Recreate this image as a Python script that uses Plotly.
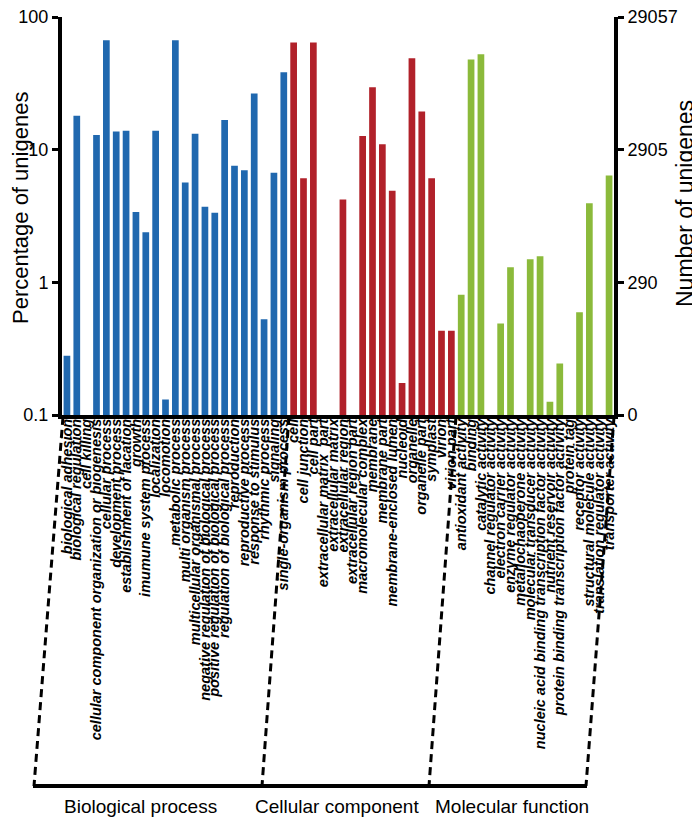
import plotly.graph_objects as go

# ---------------- data ----------------
bp_labels = [
    "biological adhesion", "biological regulation", "cell killing",
    "cellular component organization or biogenesis", "cellular process",
    "development process", "establishment of lacation", "growth",
    "imumune system process", "localization", "locomotion",
    "metabolic process", "multi organism process",
    "multicellular organismal process",
    "negative regulation of biological process",
    "positive regulation of biological process",
    "regulation of biological process", "reproduction",
    "reproductive process", "response to stimulus", "rhythmic process",
    "signaling", "single-organism process",
]
bp_values = [0.28, 18.0, None, 12.9, 66.7, 13.7, 13.9, 3.39, 2.38, 13.9, 0.131,
             66.7, 5.65, 13.2, 3.72, 3.34, 16.7, 7.57, 7.01, 26.5, 0.526, 6.70, 38.4]

cc_labels = [
    "cell", "cell junction", "cell part", "extracellular matrix  part",
    "extracellular matrix", "extracellular region", "extracellular region part",
    "macromolecular complex", "membrane", "membrane part",
    "membrane-enclosed lumen", "nucleoid", "organelle", "organelle part",
    "symplast", "virion", "virion part",
]
cc_values = [64.3, 6.10, 64.3, None, None, 4.21, None, 12.7, 29.6, 11.0,
             4.91, 0.174, 48.8, 19.4, 6.10, 0.432, 0.432]

mf_labels = [
    "antioxidant activity", "binding", "catalytic activity",
    "channel regulator activity", "electron carrier activity",
    "enzyme regulator activity", "metallochaoperone activity",
    "molecular transducer activity",
    "nucleic acid binding transcription factor activity",
    "nutrient reservoir activity",
    "protein binding transcription factor activity", "protein tag",
    "receptor activity", "structural molecule activity",
    "translation regulator activity", "transporter activity",
]
mf_values = [0.807, 47.9, 52.5, None, 0.49, 1.30, None, 1.49, 1.57, 0.126,
             0.244, None, 0.596, 3.95, None, 6.38]

y_tickvals = [0.1, 1, 10, 100]
left_ticktext = ["0.1", "1", "10", "100"]
right_ticktext = ["0", "290", "2905", "29057"]
group_names = ["Biological process", "Cellular component", "Molecular function"]

# ---------------- layout geometry ----------------
# the page body has an 8px margin, so the figure is drawn 8px lower/righter
OFF = 8
W, H = 700 - OFF, 820 - OFF
PLOT_X0, PLOT_X1, PLOT_Y0, PLOT_Y1 = 62, 614, 17, 415   # target window pixels
L = PLOT_X0 - OFF
T = PLOT_Y0 - OFF
R = W - (PLOT_X1 - OFF)
B = H - (PLOT_Y1 - OFF)
PW, PH = W - L - R, H - T - B


def px(x):
    return (x - OFF - L) / PW


def py(y):
    return (H - B - (y - OFF)) / PH


FONT = "Liberation Sans, Arial, sans-serif"
all_labels = bp_labels + cc_labels + mf_labels

fig = go.Figure()
for labels, vals, col in [(bp_labels, bp_values, "#2068AF"),
                          (cc_labels, cc_values, "#B1212A"),
                          (mf_labels, mf_values, "#8BBA3B")]:
    fig.add_trace(go.Bar(x=labels, y=vals, marker=dict(color=col, line=dict(width=0)),
                         showlegend=False, hoverinfo="x+y"))

# invisible trace so the right axis is drawn
fig.add_trace(go.Scatter(x=[all_labels[0]], y=[1], yaxis="y2", mode="markers",
                         marker=dict(opacity=0), showlegend=False, hoverinfo="skip"))

shapes = []
dash = "8px,5px"
for (x0, x1) in [(63, 34), (289, 262), (456, 429), (614, 586)]:
    shapes.append(dict(type="line", xref="paper", yref="paper",
                       x0=px(x0), y0=py(417), x1=px(x1), y1=py(786),
                       line=dict(color="black", width=3, dash=dash)))
shapes.append(dict(type="line", xref="paper", yref="paper",
                   x0=px(33), y0=py(786), x1=px(587), y1=py(786),
                   line=dict(color="black", width=4)))

annotations = []
for name, xc in zip(group_names, [140, 337, 512]):
    annotations.append(dict(text=name, xref="paper", yref="paper", x=px(xc), y=py(806),
                            xanchor="center", yanchor="middle", showarrow=False,
                            font=dict(family=FONT, size=19, color="black")))
annotations.append(dict(text="Percentage of unigenes", xref="paper", yref="paper",
                        x=px(20), y=py(208), textangle=-90, showarrow=False,
                        xanchor="center", yanchor="middle",
                        font=dict(family=FONT, size=22, color="black")))
annotations.append(dict(text="Number of unigenes", xref="paper", yref="paper",
                        x=px(685), y=py(204), textangle=-90, showarrow=False,
                        xanchor="center", yanchor="middle",
                        font=dict(family=FONT, size=23, color="black")))

fig.update_layout(
    width=W, height=H,
    margin=dict(l=L, r=R, t=T, b=B, pad=0, autoexpand=False),
    paper_bgcolor="white", plot_bgcolor="white",
    bargap=0.32,
    font=dict(family=FONT, color="black"),
    xaxis=dict(
        type="category", categoryorder="array", categoryarray=all_labels,
        tickmode="array", tickvals=all_labels, ticktext=all_labels,
        tickangle=-90, ticks="", showgrid=False, zeroline=False,
        showline=True, linewidth=4, linecolor="black", automargin=False,
        range=[-0.5, len(all_labels) - 0.5], ticklabelstandoff=-6,
        tickfont=dict(family=FONT, size=14.5, color="black", weight="bold", style="italic"),
    ),
    yaxis=dict(
        type="log", range=[-1, 2], tickmode="array", tickvals=y_tickvals,
        ticktext=left_ticktext, ticks="outside", ticklen=6, tickwidth=3,
        tickcolor="black", showline=True, linewidth=4, linecolor="black",
        showgrid=False, zeroline=False, automargin=False, ticklabeloverflow="allow",
        tickfont=dict(family=FONT, size=18, color="black"),
    ),
    yaxis2=dict(
        type="log", range=[-1, 2], overlaying="y", side="right",
        tickmode="array", tickvals=y_tickvals, ticktext=right_ticktext,
        ticks="outside", ticklen=6, tickwidth=3, tickcolor="black",
        showline=True, linewidth=4, linecolor="black",
        showgrid=False, zeroline=False, automargin=False, ticklabeloverflow="allow",
        tickfont=dict(family=FONT, size=18, color="black"),
    ),
    shapes=shapes,
    annotations=annotations,
)

fig.write_html("out.html")
